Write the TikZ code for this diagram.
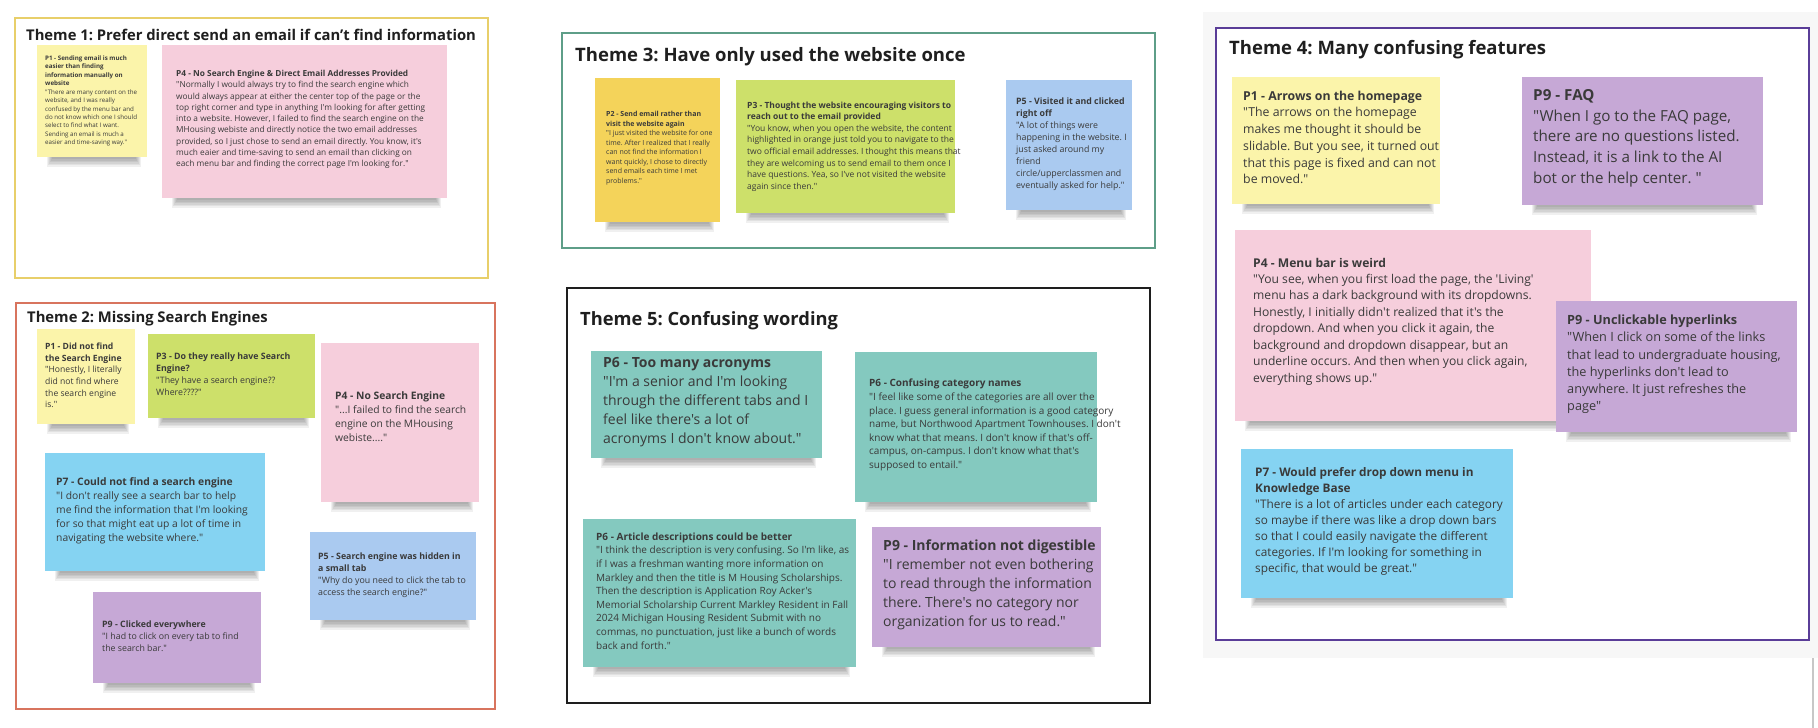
\documentclass[tikz,border=0pt]{standalone}
\usepackage{fontspec}
\setmainfont{Open Sans}
\newfontfamily\osans{Open Sans}
\definecolor{cYel}{HTML}{FBF4AA}
\definecolor{cPink}{HTML}{F6CEDC}
\definecolor{cGold}{HTML}{F4D35A}
\definecolor{cLime}{HTML}{CDE06A}
\definecolor{cLBlue}{HTML}{AACAF0}
\definecolor{cCyan}{HTML}{85D3F2}
\definecolor{cPurp}{HTML}{C6A8D6}
\definecolor{cTeal}{HTML}{84C9BF}
\definecolor{fGold}{HTML}{E8CF6A}
\definecolor{fRed}{HTML}{D8745E}
\definecolor{fGreen}{HTML}{5E9E88}
\definecolor{fBlack}{HTML}{1E1E1E}
\definecolor{fPurp}{HTML}{5A3D98}
\definecolor{tTitle}{HTML}{1F1F1F}
\definecolor{tBody}{HTML}{3A3A3A}
\definecolor{bgGrey}{HTML}{F7F7F7}
\tikzset{
  stickybox/.style={inner sep=0pt, outer sep=0pt},
  notetext/.style={align=left, inner sep=0pt, text=tBody},
  themeframe/.style={line width=2.6pt, inner sep=0pt, outer sep=0pt, fill=white},
  themetitle/.style={inner sep=0pt, text=tTitle},
}
% #1 name #2 colour #3 x1 #4 y1 #5 x2 #6 y2 #7 text options #8 font size #9 content
\newcommand{\sticky}[9]{%
  \foreach \k in {0,...,5}{\fill[black,opacity=0.06] ({#3+10+\k},{#6-3}) rectangle ({#5-6-\k},{#6+10-1.6*\k});}
  \node[stickybox, fill=#2, minimum width={#5pt-#3pt}, minimum height={#6pt-#4pt}, anchor=north west] (#1) at (#3,#4) {};
  \pgfmathsetmacro\lsk{#8*1.36}%
  \node[notetext, anchor=west, font=\osans\frenchspacing\fontsize{#8}{\lsk}\selectfont, #7] (#1-txt) at (#1.west) {#9};
}
\begin{document}
\osans\frenchspacing
\begin{tikzpicture}[x=1pt,y=-1pt]
\useasboundingbox (0,0) rectangle (1818,728);
\fill[white] (0,0) rectangle (1818,728);
% grey canvas behind theme 4
\fill[bgGrey] (1203,12) rectangle (1818,658);
\draw[line width=1.5pt, black!22] (1813,658) -- (1813,728);

% ---------------- Theme 1
\node[themeframe, draw=fGold, minimum width=473pt, minimum height=260pt, anchor=north west] (th1) at (15,18) {};
\node[themetitle, font=\osans\bfseries\fontsize{14.8}{18}\selectfont, anchor=base west] (th1-title) at (26,40) {Theme 1: Prefer direct send an email if can’t find information};
\sticky{t1p1}{cYel}{37}{45}{147}{157}{xshift=8pt}{6.2}{%
\textbf{P1 - Sending email is much}\\ \textbf{easier than finding}\\ \textbf{information manually on}\\ \textbf{website}\\
"There are many content on the\\ website, and I was really\\ confused by the menu bar and\\ do not know which one I should\\ select to find what I want.\\ Sending an email is much a\\ easier and time-saving way."}
\sticky{t1p4}{cPink}{162}{45}{447}{198}{xshift=14pt,yshift=2pt}{8.3}{%
\textbf{P4 - No Search Engine \& Direct Email Addresses Provided}\\
"Normally I would always try to find the search engine which\\ would always appear at either the center top of the page or the\\ top right corner and type in anything I'm looking for after getting\\ into a website. However, I failed to find the search engine on the\\ MHousing webiste and directly notice the two email addresses\\ provided, so I just chose to send an email directly. You know, it's\\ much eaier and time-saving to send an email than clicking on\\ each menu bar and finding the correct page I'm looking for."}

% ---------------- Theme 2
\node[themeframe, draw=fRed, minimum width=479pt, minimum height=406pt, anchor=north west] (th2) at (16,303) {};
\node[themetitle, font=\osans\bfseries\fontsize{14.8}{18}\selectfont, anchor=base west] (th2-title) at (27,322) {Theme 2: Missing Search Engines};
\sticky{t2p1}{cYel}{37}{329}{135}{424}{xshift=8pt,yshift=1pt}{8.6}{%
\textbf{P1 - Did not find}\\ \textbf{the Search Engine}\\ "Honestly, I literally\\ did not find where\\ the search engine\\ is."}
\sticky{t2p3}{cLime}{148}{334}{315}{418}{xshift=8pt,yshift=2pt}{8.8}{%
\textbf{P3 - Do they really have Search}\\ \textbf{Engine?}\\ "They have a search engine??\\ Where????"}
\sticky{t2p4}{cPink}{321}{343}{479}{502}{xshift=14pt,yshift=6pt}{10.3}{%
\textbf{P4 - No Search Engine}\\ "...I failed to find the search\\ engine on the MHousing\\ webiste...."}
\sticky{t2p7}{cCyan}{45}{453}{265}{571}{xshift=11pt,yshift=1pt}{10.3}{%
\textbf{P7 - Could not find a search engine}\\ "I don't really see a search bar to help\\ me find the information that I'm looking\\ for so that might eat up a lot of time in\\ navigating the website where."}
\sticky{t2p5}{cLBlue}{310}{532}{476}{620}{xshift=8pt,yshift=1pt}{8.8}{%
\textbf{P5 - Search engine was hidden in}\\ \textbf{a small tab}\\ "Why do you need to click the tab to\\ access the search engine?"}
\sticky{t2p9}{cPurp}{93}{592}{261}{683}{xshift=9pt,yshift=1pt}{8.8}{%
\textbf{P9 - Clicked everywhere}\\ "I had to click on every tab to find\\ the search bar."}

% ---------------- Theme 3
\node[themeframe, draw=fGreen, minimum width=593pt, minimum height=215pt, anchor=north west] (th3) at (562,33) {};
\node[themetitle, font=\osans\bfseries\fontsize{18.5}{22}\selectfont, anchor=base west] (th3-title) at (575,61) {Theme 3: Have only used the website once};
\sticky{t3p2}{cGold}{595}{78}{720}{222}{xshift=11pt,yshift=2pt}{7.0}{%
\textbf{P2 - Send email rather than}\\ \textbf{visit the website again}\\ "I just visited the website for one\\ time. After I realized that I really\\ can not find the information I\\ want quickly, I chose to directly\\ send emails each time I met\\ problems."}
\sticky{t3p3}{cLime}{736}{80}{955}{213}{xshift=11pt}{8.5}{%
\textbf{P3 - Thought the website encouraging visitors to}\\ \textbf{reach out to the email provided}\\ "You know, when you open the website, the content\\ highlighted in orange just told you to navigate to the\\ two official email addresses. I thought this means that\\ they are welcoming us to send email to them once I\\ have questions. Yea, so I've not visited the website\\ again since then."}
\sticky{t3p5}{cLBlue}{1006}{80}{1132}{210}{xshift=10pt,yshift=1pt}{8.8}{%
\textbf{P5 - Visited it and clicked}\\ \textbf{right off}\\ "A lot of things were\\ happening in the website. I\\ just asked around my\\ friend\\ circle/upperclassmen and\\ eventually asked for help."}

% ---------------- Theme 5
\node[themeframe, draw=fBlack, minimum width=583pt, minimum height=415pt, anchor=north west] (th5) at (567,288) {};
\node[themetitle, font=\osans\bfseries\fontsize{18.3}{22}\selectfont, anchor=base west] (th5-title) at (580,325) {Theme 5: Confusing wording};
\sticky{t5p6a}{cTeal}{591}{351}{822}{458}{xshift=12pt,yshift=2pt}{14}{%
\textbf{P6 - Too many acronyms}\\ "I'm a senior and I'm looking\\ through the different tabs and I\\ feel like there's a lot of\\ acronyms I don't know about."}
\sticky{t5p6b}{cTeal}{855}{352}{1097}{502}{xshift=14pt,yshift=2pt}{10}{%
\textbf{P6 - Confusing category names}\\ "I feel like some of the categories are all over the\\ place. I guess general information is a good category\\ name, but Northwood Apartment Townhouses. I don't\\ know what that means. I don't know if that's off-\\ campus, on-campus. I don't know what that's\\ supposed to entail."}
\sticky{t5p6c}{cTeal}{583}{519}{856}{667}{xshift=13pt,yshift=2pt}{10}{%
\textbf{P6 - Article descriptions could be better}\\ "I think the description is very confusing. So I'm like, as\\ if I was a freshman wanting more information on\\ Markley and then the title is M Housing Scholarships.\\ Then the description is Application Roy Acker's\\ Memorial Scholarship Current Markley Resident in Fall\\ 2024 Michigan Housing Resident Submit with no\\ commas, no punctuation, just like a bunch of words\\ back and forth."}
\sticky{t5p9}{cPurp}{872}{527}{1101}{647}{xshift=11pt,yshift=2pt}{14}{%
\textbf{P9 - Information not digestible}\\ "I remember not even bothering\\ to read through the information\\ there. There's no category nor\\ organization for us to read."}

% ---------------- Theme 4
\node[themeframe, draw=fPurp, minimum width=593pt, minimum height=612pt, anchor=north west] (th4) at (1216,28) {};
\node[themetitle, font=\osans\bfseries\fontsize{18.5}{22}\selectfont, anchor=base west] (th4-title) at (1229,54) {Theme 4: Many confusing features};
\sticky{t4p1}{cYel}{1232}{77}{1440}{204}{xshift=11pt,yshift=3pt}{12.3}{%
\textbf{P1 - Arrows on the homepage}\\ "The arrows on the homepage\\ makes me thought it should be\\ slidable. But you see, it turned out\\ that this page is fixed and can not\\ be moved."}
\sticky{t4p9a}{cPurp}{1522}{77}{1763}{205}{xshift=11pt,yshift=3pt}{15.2}{%
\textbf{P9 - FAQ}\\ "When I go to the FAQ page,\\ there are no questions listed.\\ Instead, it is a link to the AI\\ bot or the help center. "}
\sticky{t4p4}{cPink}{1235}{230}{1591}{421}{xshift=18pt,yshift=4pt}{12.1}{%
\textbf{P4 - Menu bar is weird}\\ "You see, when you first load the page, the 'Living'\\ menu has a dark background with its dropdowns.\\ Honestly, I initially didn't realized that it's the\\ dropdown. And when you click it again, the\\ background and dropdown disappear, but an\\ underline occurs. And then when you click again,\\ everything shows up."}
\sticky{t4p9b}{cPurp}{1556}{301}{1797}{432}{xshift=11pt,yshift=2pt}{12.7}{%
\textbf{P9 - Unclickable hyperlinks}\\ "When I click on some of the links\\ that lead to undergraduate housing,\\ the hyperlinks don't lead to\\ anywhere. It just refreshes the\\ page"}
\sticky{t4p7}{cCyan}{1241}{449}{1513}{598}{xshift=14pt,yshift=2pt}{11.8}{%
\textbf{P7 - Would prefer drop down menu in}\\ \textbf{Knowledge Base}\\ "There is a lot of articles under each category\\ so maybe if there was like a drop down bars\\ so that I could easily navigate the different\\ categories. If I'm looking for something in\\ specific, that would be great."}
\end{tikzpicture}
\end{document}
